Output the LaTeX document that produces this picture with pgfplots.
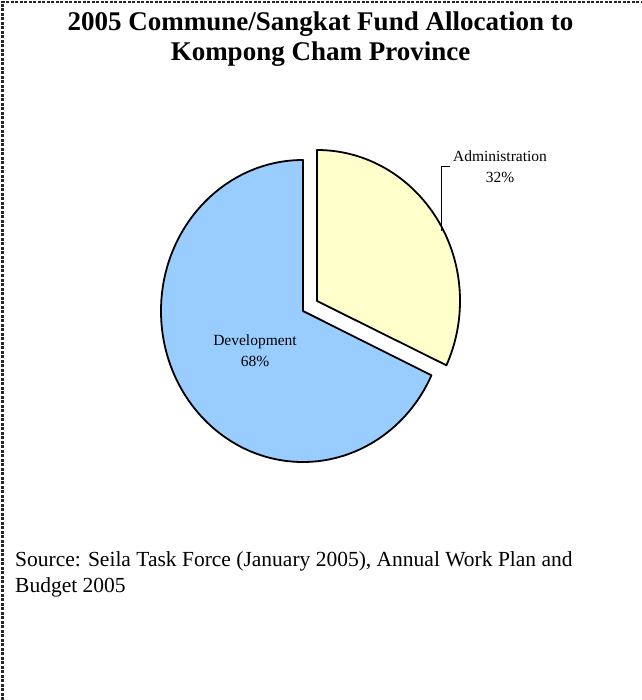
\documentclass[border=0pt]{standalone}
\usepackage{pgfplots}
\usepackage{pgfplotstable}
\pgfplotsset{compat=1.18}
\usepackage{fontspec}
\setmainfont{Liberation Serif}
\definecolor{devblue}{HTML}{99CCFF}
\definecolor{admyellow}{HTML}{FFFFCC}
\pgfplotstableread{
label value
Development 68
Administration 32
}\piedata
\begin{document}
\begin{tikzpicture}
\pgfplotstablegetelem{0}{value}\of\piedata \let\devval\pgfplotsretval
\pgfplotstablegetelem{1}{value}\of\piedata \let\admval\pgfplotsretval
\pgfmathsetmacro\devend{90+3.6*\devval}
\pgfmathsetmacro\admend{90-3.6*\admval}
\begin{axis}[scale only axis, width=641pt, height=700pt,
  xmin=0, xmax=641, ymin=0, ymax=700, y dir=reverse,
  hide axis, clip=false]
\draw[line width=2.2pt, black!85, dash pattern=on 3pt off 1.5pt] (axis cs:2.5,700) -- (axis cs:2.5,1.8) -- (axis cs:641,1.8);
% title
\node[font=\fontsize{27}{30}\selectfont\bfseries, anchor=base] at (axis cs:320.5,31) {2005 Commune/Sangkat Fund Allocation to};
\node[font=\fontsize{27}{30}\selectfont\bfseries, anchor=base] at (axis cs:320.5,61) {Kompong Cham Province};
% pie slices
\filldraw[fill=devblue, draw=black, line width=1.8pt, line join=round]
  (axis cs:303,311) -- ++(0pt,151pt) arc[start angle=90, end angle=\devend, x radius=142pt, y radius=151pt] -- cycle;
\filldraw[fill=admyellow, draw=black, line width=1.8pt, line join=round]
  (axis cs:317,301) -- ++(0pt,151pt) arc[start angle=90, end angle=\admend, x radius=143pt, y radius=151pt] -- cycle;
% leader line
\draw[line width=0.8pt] (axis cs:450,166) -- (axis cs:441.5,166) -- (axis cs:441.5,231);
% labels
\node[font=\fontsize{15.5}{21}\selectfont, align=center] at (axis cs:500,167) {Administration\\\admval\%};
\node[font=\fontsize{15.5}{21}\selectfont, align=center] at (axis cs:255,351) {Development\\\devval\%};
% source
\node[font=\fontsize{21.5}{25}\selectfont, anchor=base west, inner sep=0pt] at (axis cs:15,566) {Source: Seila Task Force (January 2005), Annual Work Plan and};
\node[font=\fontsize{21.5}{25}\selectfont, anchor=base west, inner sep=0pt] at (axis cs:15,592) {Budget 2005};
\end{axis}
\pgfresetboundingbox
\path (current axis.south west) rectangle (current axis.north east);
\end{tikzpicture}
\end{document}
